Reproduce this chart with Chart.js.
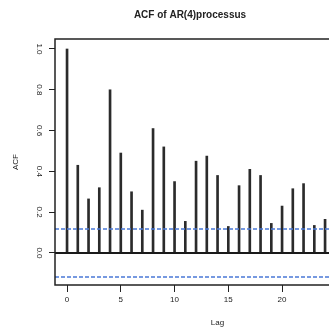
<!DOCTYPE html>
<html>
<head>
<meta charset="utf-8">
<script src="https://cdn.jsdelivr.net/npm/chart.js@4.4.1/dist/chart.umd.min.js"></script>
<style>
  html, body { margin: 0; padding: 0; background: #fff; overflow: hidden; }
  #wrap { width: 380px; height: 331px; }
</style>
</head>
<body>
<div id="wrap"><canvas id="acfChart" width="380" height="331"></canvas></div>
<script>
// ACF values, lags 0..24
const lags = [0, 1, 2, 3, 4, 5, 6, 7, 8, 9, 10, 11, 12, 13, 14, 15, 16, 17, 18, 19, 20, 21, 22, 23, 24];
const acfValues = [1.0, 0.43, 0.265, 0.32, 0.80, 0.49, 0.30, 0.21, 0.61, 0.52, 0.35, 0.155, 0.45, 0.475, 0.38,
                   0.13, 0.33, 0.41, 0.38, 0.145, 0.23, 0.315, 0.34, 0.135, 0.165];

// confidence bound and axis settings
const ciLevel = 0.118;
const xMin = -1.12;
const xMax = 29.11;
const yMin = -0.157;
const yMax = 1.049;
const xTicks = [0, 5, 10, 15, 20, 25];
const yTicks = [0.0, 0.2, 0.4, 0.6, 0.8, 1.0];

const barData = lags.map((lag, i) => ({ x: lag, y: acfValues[i] }));
const hLine = v => [{ x: xMin, y: v }, { x: xMax, y: v }];

const font = 'Liberation Sans, Arial, sans-serif';

// draws the box round the plot region, like R's box()
const boxPlugin = {
    id: 'box',
    afterDatasetsDraw(chart) {
        const { ctx, chartArea } = chart;
        ctx.save();
        ctx.strokeStyle = '#222';
        ctx.lineWidth = 1.5;
        ctx.strokeRect(chartArea.left, chartArea.top, chartArea.right - chartArea.left, chartArea.bottom - chartArea.top);
        ctx.restore();
    }
};

new Chart(document.getElementById('acfChart'), {
    type: 'bar',
    data: {
        datasets: [
            {
                type: 'line',
                data: hLine(0),
                borderColor: '#1a1a1a',
                borderWidth: 2,
                pointRadius: 0
            },
            {
                type: 'line',
                data: hLine(ciLevel),
                borderColor: '#4a78d6',
                borderWidth: 1.5,
                borderDash: [4, 2],
                pointRadius: 0
            },
            {
                type: 'line',
                data: hLine(-ciLevel),
                borderColor: '#4a78d6',
                borderWidth: 1.5,
                borderDash: [4, 2],
                pointRadius: 0
            },
            {
                data: barData,
                backgroundColor: '#2b2b2b',
                barThickness: 2
            }
        ]
    },
    options: {
        responsive: false,
        animation: false,
        layout: { padding: 0 },
        plugins: {
            legend: { display: false },
            tooltip: { enabled: false },
            title: {
                display: true,
                text: 'ACF of AR(4)processus',
                color: '#222',
                font: { family: font, size: 10, weight: 'bold' },
                padding: { top: 9, bottom: 18 }
            }
        },
        scales: {
            x: {
                type: 'linear',
                min: xMin,
                max: xMax,
                offset: false,
                afterBuildTicks: s => { s.ticks = xTicks.map(v => ({ value: v })); },
                afterFit: s => { s.height = 46; },
                grid: { display: true, offset: false, drawOnChartArea: false, drawTicks: true, tickLength: 7, color: '#222', lineWidth: 1 },
                border: { display: false },
                ticks: { color: '#222', font: { family: font, size: 8 }, padding: 3, maxRotation: 0 },
                title: { display: true, text: 'Lag', color: '#222', font: { family: font, size: 8 }, padding: { top: 0, bottom: 3 } }
            },
            y: {
                min: yMin,
                max: yMax,
                afterBuildTicks: s => { s.ticks = yTicks.map(v => ({ value: v })); },
                afterFit: s => { s.width = 55; },
                grid: { display: true, drawOnChartArea: false, drawTicks: true, tickLength: 6, color: '#222', lineWidth: 1 },
                border: { display: false },
                ticks: {
                    color: '#222',
                    font: { family: font, size: 8 },
                    padding: 4,
                    minRotation: -90,
                    crossAlign: 'center',
                    callback: v => v.toFixed(1)
                },
                title: { display: true, text: 'ACF', color: '#222', font: { family: font, size: 8 }, padding: { top: 11, bottom: 0 } }
            }
        }
    },
    plugins: [boxPlugin]
});
</script>
</body>
</html>
